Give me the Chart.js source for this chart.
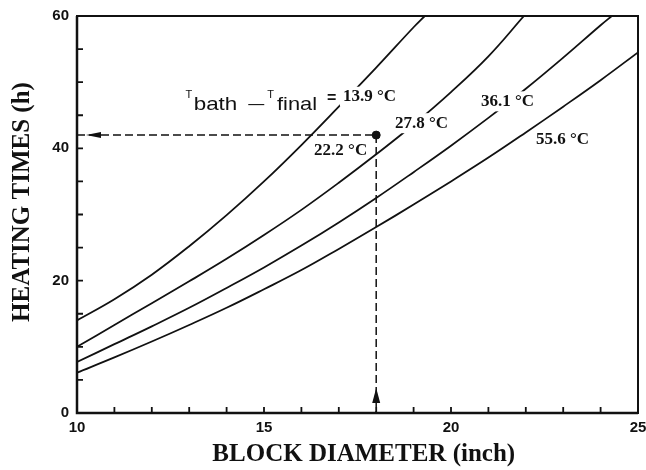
<!DOCTYPE html>
<html>
<head>
<meta charset="utf-8">
<script src="https://cdn.jsdelivr.net/npm/chart.js@4.4.1/dist/chart.umd.min.js"></script>
<style>
  body { margin: 0; background: #fff; }
</style>
</head>
<body>
<canvas id="graphe" width="646" height="470"></canvas>
<script>
// diametre du bloc (inch) / temps de chauffe (h), une paire par courbe
const diamA = [10, 11, 12, 13, 14, 15, 16, 17, 18, 19, 19.3];
const tempsA = [14.0, 17.2, 20.9, 25.2, 29.9, 35.0, 40.5, 46.3, 52.2, 58.3, 60];

const diamB = [10, 11, 12, 13, 14, 15, 16, 17, 18, 19, 20, 21, 21.95];
const tempsB = [10.0, 13.3, 16.6, 19.9, 23.3, 26.9, 30.7, 34.8, 39.1, 43.6, 48.5, 53.9, 60];

const diamC = [10, 11, 12, 13, 14, 15, 16, 17, 18, 19, 20, 21, 22, 23, 24, 24.3];
const tempsC = [7.7, 10.4, 13.1, 15.9, 18.9, 22.0, 25.3, 28.8, 32.5, 36.4, 40.4, 44.6, 49.0, 53.7, 58.6, 60];

const diamD = [10, 11, 12, 13, 14, 15, 16, 17, 18, 19, 20, 21, 22, 23, 24, 25];
const tempsD = [6.1, 8.4, 10.8, 13.3, 15.9, 18.7, 21.6, 24.8, 28.1, 31.5, 35.0, 38.6, 42.4, 46.3, 50.3, 54.5];

const ecarts = ['13.9 °C', '27.8 °C', '36.1 °C', '55.6 °C'];

// point de lecture (exemple)
const diamLu = 18;
const tempsLu = 42;
const ecartLu = '22.2 °C';

const labelsY = [0, 20, 40, 60];
const labelsX = [10, 15, 20, 25];

function points(xs, ys) {
    return xs.map((x, i) => ({ x: x, y: ys[i] }));
}

function courbe(xs, ys) {
    return {
        data: points(xs, ys),
        borderColor: '#111',
        borderWidth: 1.8,
        pointRadius: 0,
        tension: 0.4,
        fill: false
    };
}

function pointille(data) {
    return {
        data: data,
        borderColor: '#111',
        borderWidth: 1.5,
        borderDash: [8, 4],
        pointRadius: 0,
        fill: false
    };
}

// position des textes (coordonnees du graphe)
const etiquettes = [
    { texte: ecarts[0], x: 17.11, y: 47.8, fond: true },
    { texte: ecartLu, x: 16.34, y: 39.7, fond: false },
    { texte: ecarts[1], x: 18.5, y: 43.8, fond: true },
    { texte: ecarts[2], x: 20.8, y: 47.1, fond: true },
    { texte: ecarts[3], x: 22.27, y: 41.3, fond: false }
];

const decor = {
    id: 'decor',
    afterDatasetsDraw(chart) {
        const ctx = chart.ctx;
        const sx = chart.scales.x, sy = chart.scales.y;
        ctx.save();
        ctx.fillStyle = '#111';
        ctx.textBaseline = 'middle';
        ctx.textAlign = 'left';

        // etiquettes des courbes
        ctx.font = 'bold 17px "Liberation Serif"';
        etiquettes.forEach(e => {
            const px = sx.getPixelForValue(e.x);
            const py = sy.getPixelForValue(e.y);
            const w = ctx.measureText(e.texte).width;
            if (e.fond) {
                ctx.fillStyle = '#fff';
                ctx.fillRect(px - 3, py - 10, w + 6, 20);
                ctx.fillStyle = '#111';
            }
            ctx.fillText(e.texte, px, py);
        });

        // T bath - T final =   (texte un peu etire comme sur l'original)
        ctx.textBaseline = 'alphabetic';
        let x = sx.getPixelForValue(12.9);
        const base = sy.getPixelForValue(45.8);
        const morceaux = [
            ['T', '11px "Liberation Sans"', -12, 1.5, 1],
            ['bath', '19px "Liberation Sans"', 0, 11, 1.18],
            ['\u2014', '16px "Liberation Sans"', -1, 3, 1],
            ['T', '11px "Liberation Sans"', -12, 3, 1],
            ['final', '19px "Liberation Sans"', 0, 10, 1.15],
            ['=', 'bold 16px "Liberation Sans"', -7, 0, 1]
        ];
        morceaux.forEach(m => {
            ctx.font = m[1];
            ctx.save();
            ctx.translate(x, base + m[2]);
            ctx.scale(m[4], 1);
            ctx.fillText(m[0], 0, 0);
            ctx.restore();
            x += ctx.measureText(m[0]).width * m[4] + m[3];
        });

        // fleches
        const hx = sx.getPixelForValue(10) + 9;
        const hy = sy.getPixelForValue(tempsLu);
        ctx.beginPath();
        ctx.moveTo(hx, hy);
        ctx.lineTo(hx + 15, hy - 3);
        ctx.lineTo(hx + 15, hy + 3);
        ctx.closePath();
        ctx.fill();

        const vx = sx.getPixelForValue(diamLu);
        const vy = sy.getPixelForValue(0) - 25;
        ctx.beginPath();
        ctx.moveTo(vx, vy);
        ctx.lineTo(vx - 4, vy + 15);
        ctx.lineTo(vx + 4, vy + 15);
        ctx.closePath();
        ctx.fill();
        ctx.restore();
    },
    afterDraw(chart) {
        const ctx = chart.ctx;
        const a = chart.chartArea;
        const sx = chart.scales.x, sy = chart.scales.y;
        ctx.save();
        ctx.strokeStyle = '#111';
        // cadre
        ctx.lineWidth = 2;
        ctx.strokeRect(a.left, a.top, a.right - a.left, a.bottom - a.top);
        ctx.lineWidth = 2.5;
        ctx.beginPath();
        ctx.moveTo(a.left, a.top);
        ctx.lineTo(a.left, a.bottom);
        ctx.lineTo(a.right, a.bottom);
        ctx.stroke();
        // graduations vers l'interieur
        ctx.lineWidth = 1.8;
        ctx.beginPath();
        sx.ticks.forEach(t => {
            const p = sx.getPixelForValue(t.value);
            ctx.moveTo(p, a.bottom);
            ctx.lineTo(p, a.bottom - 6);
        });
        sy.ticks.forEach(t => {
            const p = sy.getPixelForValue(t.value);
            ctx.moveTo(a.left, p);
            ctx.lineTo(a.left + 6, p);
        });
        ctx.stroke();
        ctx.restore();
    }
};

const ctx = document.getElementById('graphe');
new Chart(ctx, {
    type: 'line',
    data: {
        datasets: [
            courbe(diamA, tempsA),
            courbe(diamB, tempsB),
            courbe(diamC, tempsC),
            courbe(diamD, tempsD),
            pointille([{ x: 10, y: tempsLu }, { x: diamLu, y: tempsLu }]),
            pointille([{ x: diamLu, y: tempsLu }, { x: diamLu, y: 0 }]),
            {
                data: [{ x: diamLu, y: tempsLu }],
                pointRadius: 4,
                pointBackgroundColor: '#111',
                pointBorderColor: '#111',
                showLine: false
            }
        ]
    },
    options: {
        responsive: false,
        animation: false,
        layout: { padding: { top: 16, right: 8, left: 0, bottom: 0 } },
        plugins: {
            legend: { display: false },
            tooltip: { enabled: false }
        },
        scales: {
            x: {
                type: 'linear',
                min: 10,
                max: 25,
                afterFit: s => { s.height = 57; s.paddingLeft = 0; s.paddingRight = 0; },
                grid: { display: false, drawTicks: false },
                border: { display: false },
                ticks: {
                    stepSize: 1,
                    autoSkip: false,
                    maxRotation: 0,
                    padding: 6,
                    color: '#111',
                    font: { family: '"Liberation Sans"', size: 15, weight: 'bold' },
                    callback: v => labelsX.includes(v) ? v : ''
                },
                title: {
                    display: true,
                    text: '\u2002BLOCK DIAMETER (inch)',
                    color: '#111',
                    padding: { top: 0, bottom: 0 },
                    font: { family: '"Liberation Serif"', size: 25, weight: 'bold' }
                }
            },
            y: {
                min: 0,
                max: 60,
                afterFit: s => { s.width = 77; s.paddingTop = 0; s.paddingBottom = 0; },
                grid: { display: false, drawTicks: false },
                border: { display: false },
                ticks: {
                    stepSize: 5,
                    autoSkip: false,
                    padding: 8,
                    color: '#111',
                    font: { family: '"Liberation Sans"', size: 15, weight: 'bold' },
                    callback: v => labelsY.includes(v) ? v : ''
                },
                title: {
                    display: true,
                    text: '\u2003HEATING TIMES (h)',
                    color: '#111',
                    padding: { top: 8, bottom: 0 },
                    font: { family: '"Liberation Serif"', size: 25, weight: 'bold' }
                }
            }
        }
    },
    plugins: [decor]
});
</script>
</body>
</html>
